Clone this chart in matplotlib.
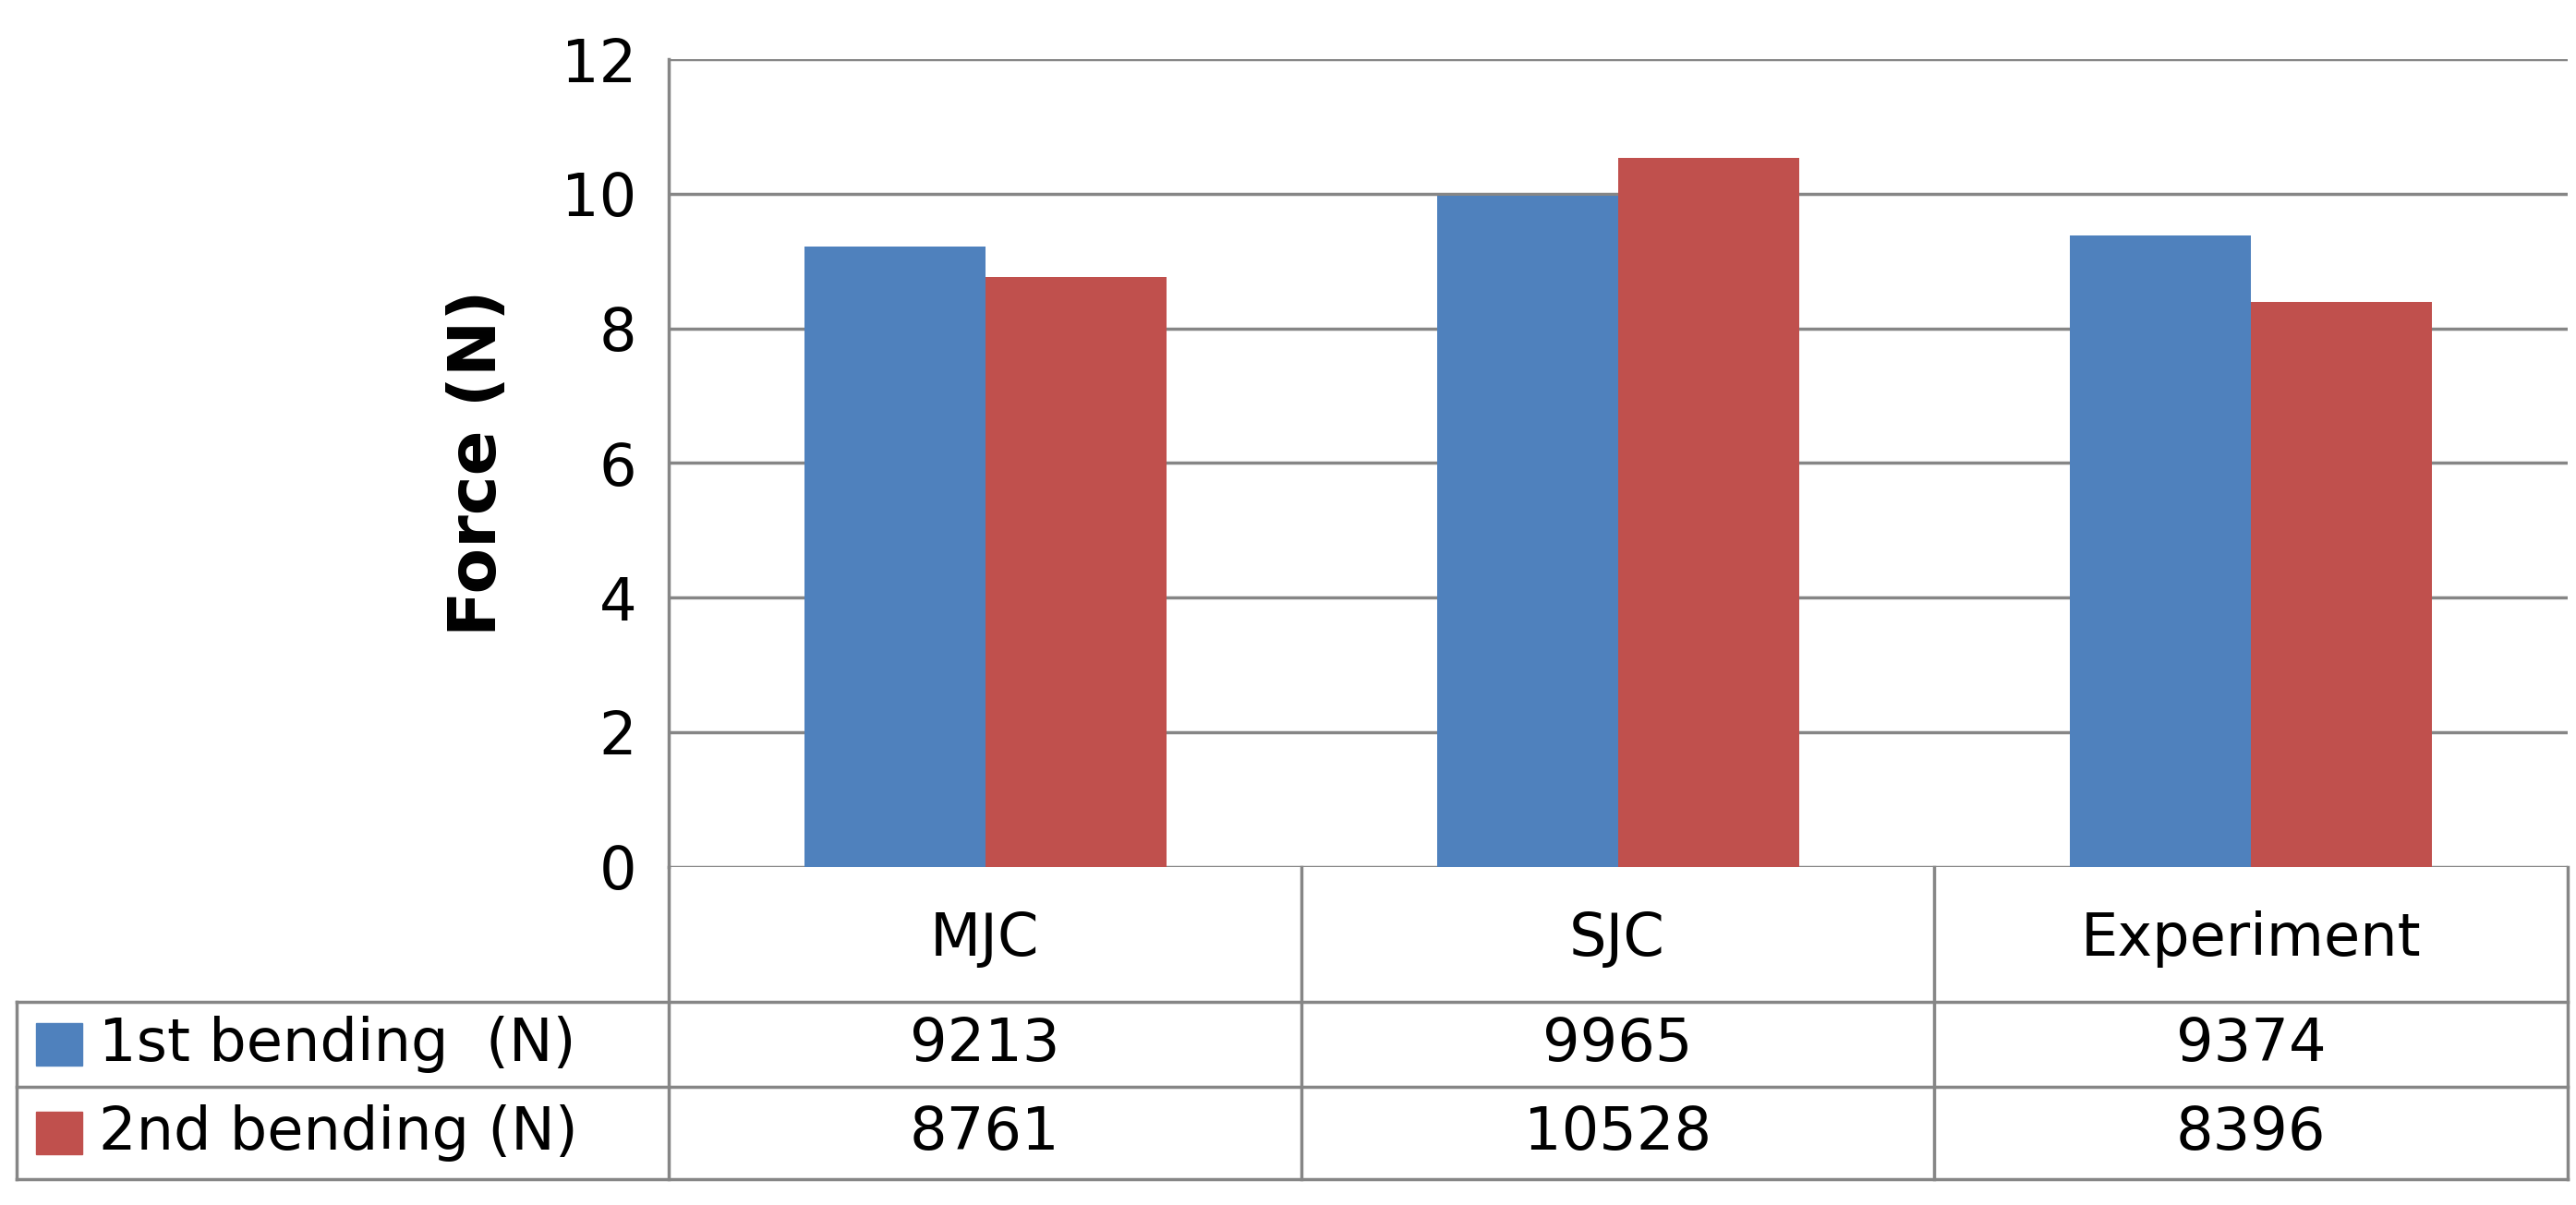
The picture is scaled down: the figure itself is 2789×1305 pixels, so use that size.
import matplotlib.pyplot as plt
from matplotlib.patches import Rectangle

categories = ["MJC", "SJC", "Experiment"]
series_names = ["1st bending  (N)", "2nd bending (N)"]
first_bending = [9213, 9965, 9374]
second_bending = [8761, 10528, 8396]
colors = ["#4F81BD", "#C0504D"]
yticks = [0, 2, 4, 6, 8, 10, 12]

W, H = 1568.0, 734.0
fig = plt.figure(figsize=(27.89, 13.05), dpi=100)
fs = 46
grid_c = "#868686"

# plot area
ax = fig.add_axes([407 / W, 1 - 528 / H, (1563 - 407) / W, (528 - 36) / H])
x = range(len(categories))
bw = 0.286
ax.bar([i - bw / 2 for i in x], [v / 1000 for v in first_bending], bw, color=colors[0], zorder=3)
ax.bar([i + bw / 2 for i in x], [v / 1000 for v in second_bending], bw, color=colors[1], zorder=3)
ax.set_xlim(-0.5, 2.5)
ax.set_ylim(0, 12)
ax.set_yticks(yticks)
ax.set_xticks([])
ax.yaxis.grid(True, color=grid_c, linewidth=2.5)
ax.tick_params(axis="y", labelsize=fs, length=0, pad=25)
for s in ["top", "right", "bottom"]:
    ax.spines[s].set_visible(False)
ax.spines["left"].set_color(grid_c)
ax.spines["left"].set_linewidth(2.5)
ax.set_ylabel("Force (N)", fontsize=52, fontweight="bold", labelpad=40)

# data table
tx = fig.add_axes([0, 0, 1, 1])
tx.set_xlim(0, W)
tx.set_ylim(H, 0)
tx.axis("off")
cols = [407, 792, 1177, 1563]
rows = [528, 610, 662, 718]
lw = 2.5
for c in cols:
    tx.plot([c, c], [rows[0], rows[-1]], color=grid_c, lw=lw)
tx.plot([10, 10], [rows[1], rows[-1]], color=grid_c, lw=lw)
for r in rows[1:]:
    tx.plot([10, 1563], [r, r], color=grid_c, lw=lw)
for i, name in enumerate(categories):
    tx.text((cols[i] + cols[i + 1]) / 2, (rows[0] + rows[1]) / 2 + 3, name,
            fontsize=fs, ha="center", va="center")
for j, (name, vals) in enumerate(zip(series_names, [first_bending, second_bending])):
    yc = (rows[j + 1] + rows[j + 2]) / 2
    tx.add_patch(Rectangle((22, yc - 13), 28, 26, color=colors[j]))
    tx.text(60, yc, name, fontsize=fs, ha="left", va="center")
    for i, v in enumerate(vals):
        tx.text((cols[i] + cols[i + 1]) / 2, yc, str(v), fontsize=fs, ha="center", va="center")

fig.savefig("out.png", dpi=100)
